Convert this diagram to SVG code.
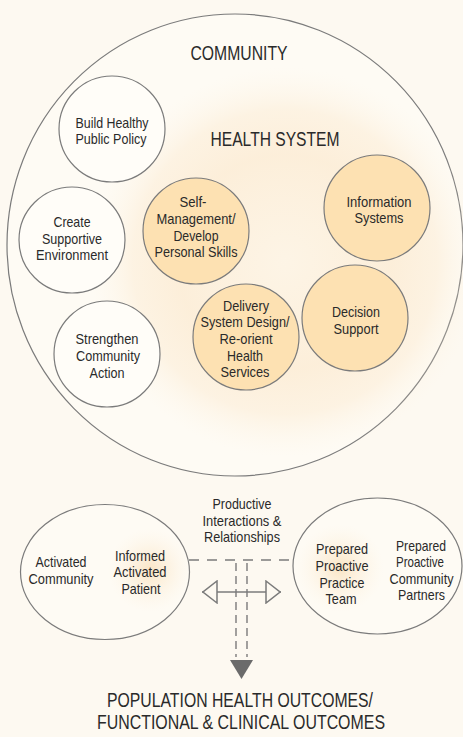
<svg xmlns="http://www.w3.org/2000/svg" width="463" height="737" viewBox="0 0 463 737">
<defs>
<radialGradient id="glowBig" cx="285" cy="262" r="195" gradientUnits="userSpaceOnUse">
<stop offset="0" stop-color="#fcecd4" stop-opacity="0.45"/>
<stop offset="0.55" stop-color="#fbe6c8" stop-opacity="0.6"/>
<stop offset="0.78" stop-color="#fbe6c8" stop-opacity="0.4"/>
<stop offset="1" stop-color="#fdf3e3" stop-opacity="0"/>
</radialGradient>
<radialGradient id="glowL" cx="150" cy="570" r="42" gradientUnits="userSpaceOnUse">
<stop offset="0" stop-color="#f9dfb8" stop-opacity="0.8"/>
<stop offset="1" stop-color="#fdf3e3" stop-opacity="0"/>
</radialGradient>
<radialGradient id="glowR" cx="340" cy="568" r="44" gradientUnits="userSpaceOnUse">
<stop offset="0" stop-color="#f9dfb8" stop-opacity="0.8"/>
<stop offset="1" stop-color="#fdf3e3" stop-opacity="0"/>
</radialGradient>
<marker id="hollow" viewBox="0 0 16 24" refX="16" refY="12" markerWidth="16" markerHeight="24" markerUnits="userSpaceOnUse" orient="auto-start-reverse">
<path d="M1,1 L15,12 L1,23 Z" fill="#fdf9f1" stroke="#7b7b7b" stroke-width="1.5"/>
</marker>
</defs>
<style>
text{font-family:"Liberation Sans","Arial",sans-serif;fill:#2a2a2a;text-anchor:middle}
.s{font-size:14.5px}
.big{font-size:20.5px}
.out{font-size:20.5px}
.wc{fill:#fffdf8;stroke:#7b7b7b;stroke-width:1.2}
.oc{fill:#fde1b2;stroke:#7b7b7b;stroke-width:1.2}
.ln{fill:none;stroke:#7b7b7b;stroke-width:1.4}
</style>
<rect width="463" height="737" fill="#fdf9f1"/>
<g id="community">
<ellipse cx="235" cy="245" rx="228" ry="231" fill="#fefbf4" stroke="#7b7b7b" stroke-width="1.2"/>
<text class="big" x="239" y="60" textLength="97" lengthAdjust="spacingAndGlyphs">COMMUNITY</text>
</g>
<g id="health-system">
<circle cx="285" cy="262" r="195" fill="url(#glowBig)"/>
<text class="big" x="275" y="146" textLength="129" lengthAdjust="spacingAndGlyphs">HEALTH SYSTEM</text>
</g>
<g id="build-healthy">
<circle class="wc" cx="112" cy="129" r="53"/>
<text class="s" x="112" y="128" textLength="73" lengthAdjust="spacingAndGlyphs">Build Healthy</text>
<text class="s" x="111" y="144" textLength="71" lengthAdjust="spacingAndGlyphs">Public Policy</text>
</g>
<g id="create-supportive">
<circle class="wc" cx="72" cy="240" r="53"/>
<text class="s" x="72" y="227" textLength="37" lengthAdjust="spacingAndGlyphs">Create</text>
<text class="s" x="72" y="244" textLength="60" lengthAdjust="spacingAndGlyphs">Supportive</text>
<text class="s" x="72" y="260" textLength="72" lengthAdjust="spacingAndGlyphs">Environment</text>
</g>
<g id="strengthen">
<circle class="wc" cx="107" cy="354" r="53"/>
<text class="s" x="107" y="344" textLength="63" lengthAdjust="spacingAndGlyphs">Strengthen</text>
<text class="s" x="108" y="361" textLength="64" lengthAdjust="spacingAndGlyphs">Community</text>
<text class="s" x="107" y="378" textLength="35" lengthAdjust="spacingAndGlyphs">Action</text>
</g>
<g id="self-management">
<circle class="oc" cx="196" cy="231" r="53"/>
<text class="s" x="193" y="207" textLength="27" lengthAdjust="spacingAndGlyphs">Self-</text>
<text class="s" x="196" y="224" textLength="79" lengthAdjust="spacingAndGlyphs">Management/</text>
<text class="s" x="196" y="241" textLength="45" lengthAdjust="spacingAndGlyphs">Develop</text>
<text class="s" x="196" y="257" textLength="83" lengthAdjust="spacingAndGlyphs">Personal Skills</text>
</g>
<g id="information-systems">
<circle class="oc" cx="377" cy="208" r="53"/>
<text class="s" x="379" y="207" textLength="65" lengthAdjust="spacingAndGlyphs">Information</text>
<text class="s" x="379" y="223" textLength="49" lengthAdjust="spacingAndGlyphs">Systems</text>
</g>
<g id="decision-support">
<circle class="oc" cx="355" cy="318" r="53"/>
<text class="s" x="356" y="317" textLength="48" lengthAdjust="spacingAndGlyphs">Decision</text>
<text class="s" x="356" y="334" textLength="45" lengthAdjust="spacingAndGlyphs">Support</text>
</g>
<g id="delivery-system">
<circle class="oc" cx="246" cy="337" r="53"/>
<text class="s" x="246" y="311" textLength="46" lengthAdjust="spacingAndGlyphs">Delivery</text>
<text class="s" x="245" y="327" textLength="89" lengthAdjust="spacingAndGlyphs">System Design/</text>
<text class="s" x="246" y="344" textLength="53" lengthAdjust="spacingAndGlyphs">Re-orient</text>
<text class="s" x="245" y="361" textLength="36" lengthAdjust="spacingAndGlyphs">Health</text>
<text class="s" x="245" y="377" textLength="49" lengthAdjust="spacingAndGlyphs">Services</text>
</g>
<g id="activated-community">
<ellipse cx="105" cy="572" rx="84.5" ry="67.5" fill="#fefbf4" stroke="#7b7b7b" stroke-width="1.2"/>
<circle cx="150" cy="570" r="42" fill="url(#glowL)"/>
<text class="s" x="61" y="567" textLength="51" lengthAdjust="spacingAndGlyphs">Activated</text>
<text class="s" x="61" y="584" textLength="65" lengthAdjust="spacingAndGlyphs">Community</text>
<text class="s" x="140" y="561" textLength="50" lengthAdjust="spacingAndGlyphs">Informed</text>
<text class="s" x="140" y="577" textLength="53" lengthAdjust="spacingAndGlyphs">Activated</text>
<text class="s" x="141" y="594" textLength="39" lengthAdjust="spacingAndGlyphs">Patient</text>
</g>
<g id="prepared-team">
<ellipse cx="377.5" cy="566" rx="84.5" ry="68" fill="#fefbf4" stroke="#7b7b7b" stroke-width="1.2"/>
<circle cx="340" cy="568" r="44" fill="url(#glowR)"/>
<text class="s" x="342" y="554" textLength="52" lengthAdjust="spacingAndGlyphs">Prepared</text>
<text class="s" x="342" y="571" textLength="53" lengthAdjust="spacingAndGlyphs">Proactive</text>
<text class="s" x="342" y="588" textLength="45" lengthAdjust="spacingAndGlyphs">Practice</text>
<text class="s" x="341" y="604" textLength="31" lengthAdjust="spacingAndGlyphs">Team</text>
<text class="s" x="421" y="551" textLength="50" lengthAdjust="spacingAndGlyphs">Prepared</text>
<text class="s" x="420" y="567" textLength="48" lengthAdjust="spacingAndGlyphs">Proactive</text>
<text class="s" x="421.5" y="584" textLength="64" lengthAdjust="spacingAndGlyphs">Community</text>
<text class="s" x="421.5" y="600" textLength="47" lengthAdjust="spacingAndGlyphs">Partners</text>
</g>
<g id="connectors">
<path class="ln" d="M189,560 H295" stroke-dasharray="10 8"/>
<path class="ln" d="M236,563 V657 M247,563 V657" stroke-dasharray="8 5"/>
<path class="ln" d="M202,592 H281" marker-start="url(#hollow)" marker-end="url(#hollow)"/>
<path d="M230,660 L253,660 L241.5,679 Z" fill="#6b6b6b"/>
</g>
<g id="interactions-label">
<text class="s" x="242" y="509" textLength="59" lengthAdjust="spacingAndGlyphs">Productive</text>
<text class="s" x="242" y="526" textLength="79" lengthAdjust="spacingAndGlyphs">Interactions &amp;</text>
<text class="s" x="242" y="542" textLength="76" lengthAdjust="spacingAndGlyphs">Relationships</text>
</g>
<g id="outcomes">
<text class="out" x="240" y="707" textLength="266" lengthAdjust="spacingAndGlyphs">POPULATION HEALTH OUTCOMES/</text>
<text class="out" x="241" y="729" textLength="288" lengthAdjust="spacingAndGlyphs">FUNCTIONAL &amp; CLINICAL OUTCOMES</text>
</g>
</svg>
